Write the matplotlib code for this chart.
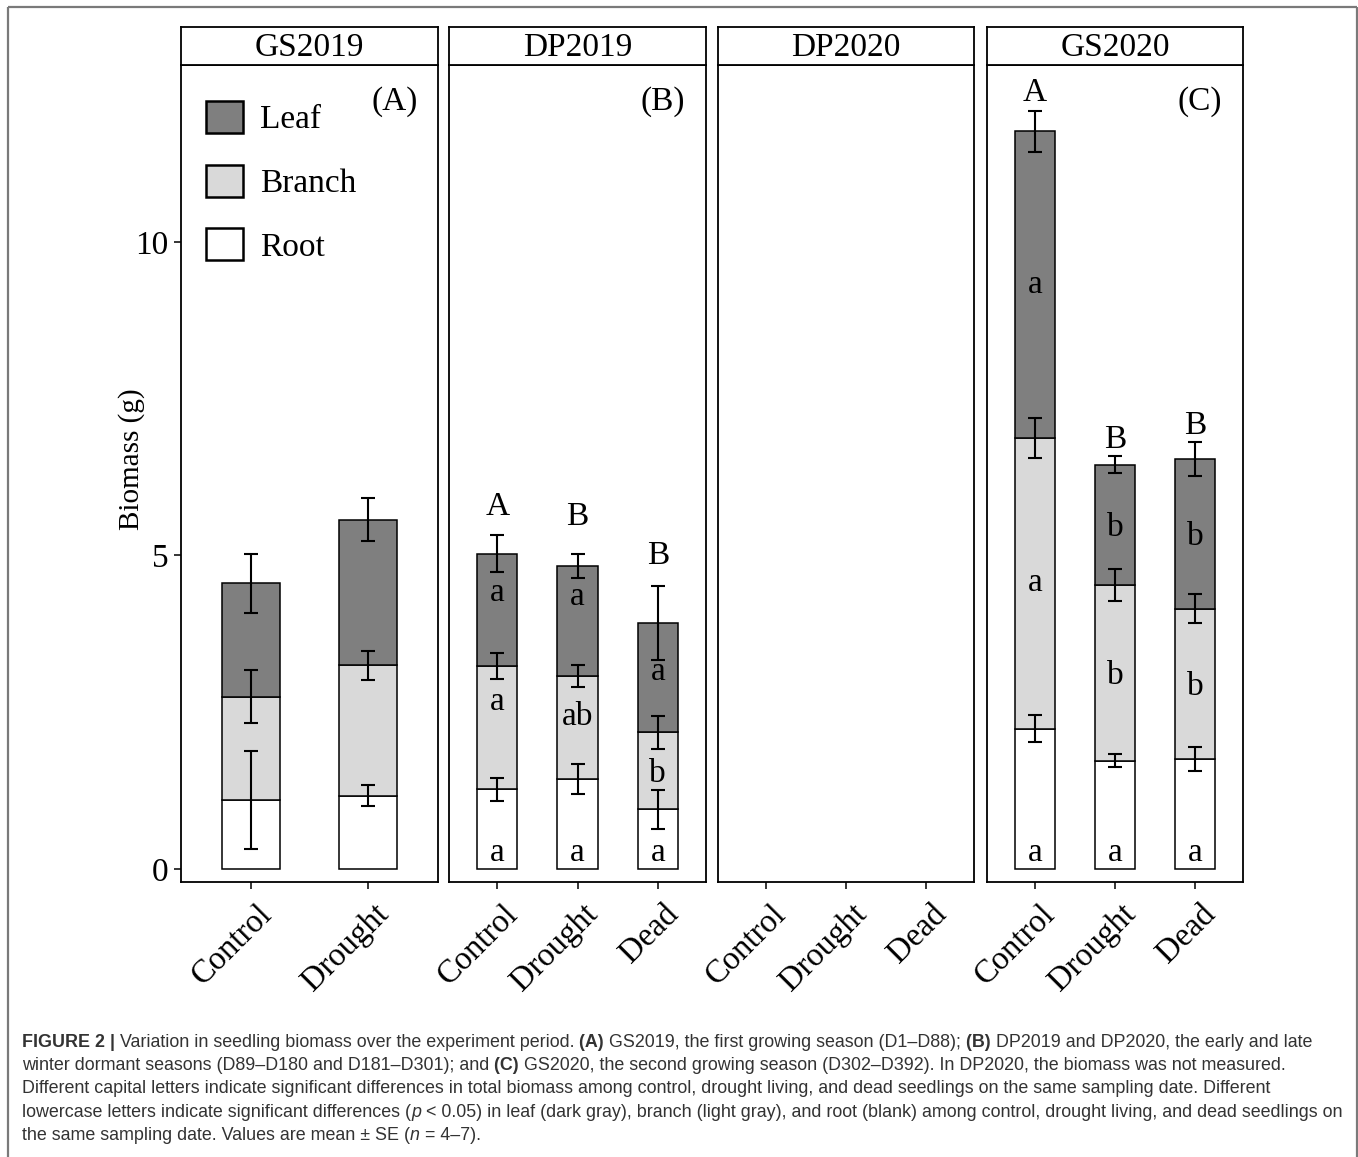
import numpy as np
import matplotlib
matplotlib.use('Agg')
import matplotlib.pyplot as plt
import matplotlib.transforms as mtransforms
from matplotlib.patches import Patch

# --- data (biomass, g; mean and SE) ---
cats_A = ['Control', 'Drought']
cats_3 = ['Control', 'Drought', 'Dead']

root_A = [1.10, 1.17]
root_A_se = [0.78, 0.17]
branch_A = [1.65, 2.08]
branch_A_se = [0.42, 0.23]
leaf_A = [1.81, 2.32]
leaf_A_se = [0.47, 0.34]

root_B = [1.27, 1.44, 0.95]
root_B_se = [0.18, 0.24, 0.31]
branch_B = [1.97, 1.64, 1.23]
branch_B_se = [0.21, 0.18, 0.26]
leaf_B = [1.79, 1.75, 1.75]
leaf_B_se = [0.29, 0.19, 0.59]

root_C = [2.24, 1.73, 1.76]
root_C_se = [0.22, 0.11, 0.19]
branch_C = [4.63, 2.80, 2.39]
branch_C_se = [0.32, 0.25, 0.23]
leaf_C = [4.89, 1.92, 2.39]
leaf_C_se = [0.33, 0.14, 0.27]

# significance letters
cap_B = ['A', 'B', 'B']
cap_C = ['A', 'B', 'B']
leaf_let_B = ['a', 'a', 'a']
branch_let_B = ['a', 'ab', 'b']
root_let_B = ['a', 'a', 'a']
leaf_let_C = ['a', 'b', 'b']
branch_let_C = ['a', 'b', 'b']
root_let_C = ['a', 'a', 'a']

# where the letters sit (y, g)
cap_y_B = [5.83, 5.66, 5.05]
cap_y_C = [12.43, 6.89, 7.11]
leaf_let_y_B = [4.40, 4.34, 3.14]
branch_let_y_B = [2.66, 2.48, 1.57]
root_let_y = 0.25

W, H = 1358, 1157
SERIF = 'Liberation Serif'
SANS = 'Liberation Sans'
LEAF_C = '#7f7f7f'
BRANCH_C = '#d9d9d9'

fig = plt.figure(figsize=(W / 100, H / 100), dpi=100)


def box(x0, y0, x1, y1):
    # pixel box (top-down) -> figure fraction rect
    return [x0 / W, 1 - y1 / H, (x1 - x0) / W, (y1 - y0) / H]


def letter(ax, x, y, s, fs=24):
    # y is the visual centre of the glyphs; shift down to the baseline
    em = fs * 100 / 72
    frac = 0.34 if any(c.isupper() or c == 'b' for c in s) else 0.24
    tr = ax.transData + mtransforms.ScaledTranslation(0, -frac * em / 100, fig.dpi_scale_trans)
    ax.text(x, y, s, transform=tr, ha='center', va='baseline', fontsize=fs, family=SERIF)


def stack(ax, cats, root, root_se, branch, branch_se, leaf, leaf_se):
    x = np.arange(1, len(cats) + 1)
    root = np.array(root)
    branch = np.array(branch)
    leaf = np.array(leaf)
    kw = dict(width=0.5, edgecolor='black', linewidth=1.1, zorder=2)
    ax.bar(x, root, color='white', **kw)
    ax.bar(x, branch, bottom=root, color=BRANCH_C, **kw)
    ax.bar(x, leaf, bottom=root + branch, color=LEAF_C, **kw)
    ekw = dict(fmt='none', ecolor='black', elinewidth=1.5, capsize=5, capthick=1.5, zorder=3)
    ax.errorbar(x, root, yerr=root_se, **ekw)
    ax.errorbar(x, root + branch, yerr=branch_se, **ekw)
    ax.errorbar(x, root + branch + leaf, yerr=leaf_se, **ekw)
    return x, root, branch, leaf


panels = [('GS2019', 181, 438, cats_A), ('DP2019', 449, 706, cats_3),
          ('DP2020', 718, 974, cats_3), ('GS2020', 987, 1243, cats_3)]
axes = []
for i, (name, x0, x1, cats) in enumerate(panels):
    ax = fig.add_axes(box(x0, 65, x1, 882))
    sax = fig.add_axes(box(x0, 27, x1, 65))
    sax.set_xticks([])
    sax.set_yticks([])
    for sp in sax.spines.values():
        sp.set_linewidth(1.3)
    sax.text(0.5, 0.45, name, ha='center', va='center', fontsize=24, family=SERIF,
             transform=sax.transAxes)
    n = len(cats)
    ax.set_xlim(0.4, n + 0.6)
    ax.set_ylim(-0.207, 12.82)
    for sp in ax.spines.values():
        sp.set_linewidth(1.3)
    ax.set_xticks(np.arange(1, n + 1))
    ax.set_xticklabels(cats, rotation=45, ha='right', rotation_mode='anchor',
                       fontsize=23.5, family=SERIF)
    ax.tick_params(axis='x', length=5, width=1.1, pad=7)
    for lab in ax.get_xticklabels():
        lab.set_transform(lab.get_transform() +
                          mtransforms.ScaledTranslation(0.05, 0, fig.dpi_scale_trans))
    if i == 0:
        ax.set_yticks([0, 5, 10])
        ax.set_yticklabels(['0', '5', '10'], fontsize=24, family=SERIF)
        ax.tick_params(axis='y', length=5, width=1.1, pad=4)
    else:
        ax.set_yticks([])
    axes.append(ax)

axA, axB, axD, axC = axes

stack(axA, cats_A, root_A, root_A_se, branch_A, branch_A_se, leaf_A, leaf_A_se)
xB, rB, bB, lB = stack(axB, cats_3, root_B, root_B_se, branch_B, branch_B_se, leaf_B, leaf_B_se)
xC, rC, bC, lC = stack(axC, cats_3, root_C, root_C_se, branch_C, branch_C_se, leaf_C, leaf_C_se)

for j in range(3):
    letter(axB, xB[j], cap_y_B[j], cap_B[j])
    letter(axB, xB[j], leaf_let_y_B[j], leaf_let_B[j])
    letter(axB, xB[j], branch_let_y_B[j], branch_let_B[j])
    letter(axB, xB[j], root_let_y, root_let_B[j])
    letter(axC, xC[j], cap_y_C[j], cap_C[j])
    letter(axC, xC[j], rC[j] + bC[j] + lC[j] / 2, leaf_let_C[j])
    letter(axC, xC[j], rC[j] + bC[j] / 2, branch_let_C[j])
    letter(axC, xC[j], root_let_y, root_let_C[j])

for ax, tag in [(axA, '(A)'), (axB, '(B)'), (axC, '(C)')]:
    ax.text(0.833, 0.945, tag, transform=ax.transAxes, ha='center', va='baseline',
            fontsize=24, family=SERIF)

handles = [Patch(facecolor=LEAF_C, edgecolor='black', linewidth=1.8, label='Leaf'),
           Patch(facecolor=BRANCH_C, edgecolor='black', linewidth=1.8, label='Branch'),
           Patch(facecolor='white', edgecolor='black', linewidth=1.8, label='Root')]
axA.legend(handles=handles, loc='upper left', bbox_to_anchor=(0.099, 0.956),
           frameon=False, borderpad=0, borderaxespad=0, handlelength=1.1,
           handleheight=1.1, labelspacing=0.88, handletextpad=0.5,
           prop={'family': SERIF, 'size': 24})

fig.text(132 / W, 1 - 459 / H, 'Biomass (g)', rotation=90, ha='center', va='center',
         fontsize=21, family=SERIF)

# caption and frame, drawn in pixel coordinates
cap = fig.add_axes([0, 0, 1, 1])
cap.axis('off')
cap.set_xlim(0, W)
cap.set_ylim(H, 0)
FCOL = '#7a7a7a'
cap.plot([7.5, 7.5], [H, 6.5], color=FCOL, lw=1.6, solid_capstyle='butt')
cap.plot([7.5, 1356.5], [6.5, 6.5], color=FCOL, lw=1.6, solid_capstyle='butt')
cap.plot([1356.5, 1356.5], [6.5, H], color=FCOL, lw=1.6, solid_capstyle='butt')

FS = 12.9
TCOL = '#333333'


def rich(x, y, parts):
    s, kw = parts[0]
    t = cap.text(x, y, s, fontsize=FS, family=SANS, color=TCOL, va='baseline', ha='left', **kw)
    for s, kw in parts[1:]:
        t = cap.annotate(s, xy=(1, 0), xycoords=t, va='bottom', ha='left', fontsize=FS,
                         family=SANS, color=TCOL, **kw)


B = {'weight': 'bold'}
N = {}
I = {'style': 'italic'}
lines = [
    [('FIGURE 2 |', B), (' Variation in seedling biomass over the experiment period.', N),
     (' (A)', B), (' GS2019, the first growing season (D1\u2013D88);', N), (' (B)', B),
     (' DP2019 and DP2020, the early and late', N)],
    [('winter dormant seasons (D89\u2013D180 and D181\u2013D301); and', N), (' (C)', B),
     (' GS2020, the second growing season (D302\u2013D392). In DP2020, the biomass was not measured.', N)],
    [('Different capital letters indicate significant differences in total biomass among control, '
      'drought living, and dead seedlings on the same sampling date. Different', N)],
    [('lowercase letters indicate significant differences (', N), ('p', I),
     (' < 0.05) in leaf (dark gray), branch (light gray), and root (blank) among control, '
      'drought living, and dead seedlings on', N)],
    [('the same sampling date. Values are mean \u00b1 SE (', N), ('n', I), (' = 4\u20137).', N)],
]
for k, parts in enumerate(lines):
    rich(22, 1046.7 + k * 23.3, parts)

fig.savefig('out.png', dpi=100)
